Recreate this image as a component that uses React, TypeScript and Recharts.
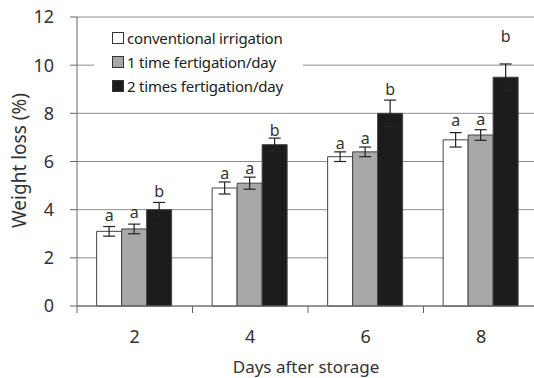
import React from 'react';
import { BarChart, Bar, XAxis, YAxis, CartesianGrid, ErrorBar, LabelList, Legend } from 'recharts';

// values
const days = ['2', '4', '6', '8'];

const conventional = [3.1, 4.9, 6.2, 6.9];
const conventionalErr = [0.2, 0.25, 0.2, 0.3];
const conventionalLetters = ['a', 'a', 'a', 'a'];
const conventionalLetterAt = [3.71, 5.48, 6.69, 7.65];

const oneTime = [3.2, 5.1, 6.4, 7.1];
const oneTimeErr = [0.2, 0.25, 0.2, 0.22];
const oneTimeLetters = ['a', 'a', 'a', 'a'];
const oneTimeLetterAt = [3.86, 5.65, 6.92, 7.72];

const twoTimes = [4.0, 6.7, 8.0, 9.5];
const twoTimesErr = [0.3, 0.27, 0.55, 0.55];
const twoTimesLetters = ['b', 'b', 'b', 'b'];
const twoTimesLetterAt = [4.79, 7.31, 9.0, 11.21];

const yTicks = [0, 2, 4, 6, 8, 10, 12];

const FONT = '"Noto Sans", sans-serif';
const TEXT = '#333';

const series = [
  { key: 'conv', name: 'conventional irrigation', fill: '#ffffff', values: conventional, err: conventionalErr, letters: conventionalLetters, letterAt: conventionalLetterAt },
  { key: 'one', name: '1 time fertigation/day', fill: '#a8a8a8', values: oneTime, err: oneTimeErr, letters: oneTimeLetters, letterAt: oneTimeLetterAt },
  { key: 'two', name: '2 times fertigation/day', fill: '#1c1c1c', values: twoTimes, err: twoTimesErr, letters: twoTimesLetters, letterAt: twoTimesLetterAt },
];

const data = days.map((d, i) => {
  const row: any = { day: d };
  series.forEach((s) => {
    row[s.key] = s.values[i];
    row[s.key + 'Err'] = s.err[i];
    row[s.key + 'Letter'] = s.letters[i];
  });
  return row;
});

// letter sits at a height (in %), converted with the bar's own scale
const makeLetter = (s: any) => (props: any) => {
  const { x, y, width, height, index, value } = props;
  const perUnit = height / s.values[index];
  const cy = y + height - s.letterAt[index] * perUnit;
  const dy = value === 'b' ? 6 : 4.5;
  return (
    <text x={x + width / 2} y={cy + dy} textAnchor="middle" fontSize={16} fontFamily={FONT} fill={TEXT}>
      {value}
    </text>
  );
};

const DayTick = (props: any) => {
  const { x, y, payload } = props;
  const half = payload.offset || 57.75;
  return (
    <g>
      <line x1={x - half} y1={y} x2={x - half} y2={y + 7} stroke="#666" />
      <text x={x} y={y + 37} textAnchor="middle" fontSize={18} fontFamily={FONT} fill={TEXT}>
        {payload.value}
      </text>
    </g>
  );
};

const LegendBox = () => (
  <div style={{ background: '#fff', padding: '2px 0 0 18px', fontFamily: FONT, fontSize: 15, letterSpacing: -0.2, color: '#222' }}>
    {series.map((s) => (
      <div key={s.key} style={{ display: 'flex', alignItems: 'center', height: 24 }}>
        <span style={{ display: 'inline-block', width: 10, height: 10, background: s.fill, border: '1px solid #333', marginRight: 3 }} />
        <span style={{ whiteSpace: 'nowrap' }}>{s.name}</span>
      </div>
    ))}
  </div>
);

export default function App() {
  return (
    <div style={{ position: 'absolute', left: 0, top: 0, width: 534, height: 378, overflow: 'hidden', background: '#fff' }}>
      <BarChart
        width={539}
        height={378}
        data={data}
        margin={{ top: 17, right: 0, bottom: 0, left: 0 }}
        barGap={0}
        barCategoryGap="17%"
      >
        <CartesianGrid vertical={false} stroke="#8c8c8c" />
        <XAxis
          dataKey="day"
          height={72}
          axisLine={{ stroke: '#666' }}
          tickLine={false}
          tickSize={0}
          tickMargin={0}
          tick={<DayTick />}
          interval={0}
          label={{
            content: (p: any) => {
              const vb = p.viewBox;
              return (
                <text x={vb.x + vb.width / 2 - 2} y={373} textAnchor="middle" fontSize={17} fontFamily={FONT} fill={TEXT}>
                  Days after storage
                </text>
              );
            },
          }}
        />
        <YAxis
          width={77}
          domain={[0, 12]}
          ticks={yTicks}
          interval={0}
          axisLine={{ stroke: '#666' }}
          tickLine={{ stroke: '#666' }}
          tickSize={7}
          tickMargin={16}
          tick={{ fontSize: 18, fontFamily: FONT, fill: TEXT }}
          label={{
            content: (p: any) => {
              const vb = p.viewBox;
              const cy = vb.y + vb.height / 2 - 1;
              return (
                <text x={19} y={cy} transform={`rotate(-90, 19, ${cy})`} textAnchor="middle" dominantBaseline="central" fontSize={19} fontFamily={FONT} fill={TEXT}>
                  Weight loss (%)
                </text>
              );
            },
          }}
        />
        <Legend
          layout="vertical"
          align="center"
          verticalAlign="middle"
          content={<LegendBox />}
          wrapperStyle={{ position: 'absolute', left: 94, top: 24, width: 209, height: 76, background: '#fff' }}
        />
        {series.map((s) => (
          <Bar key={s.key} dataKey={s.key} name={s.name} fill={s.fill} stroke="#444" strokeWidth={1} isAnimationActive={false}>
            <ErrorBar dataKey={s.key + 'Err'} width={6} stroke="#222" strokeWidth={1.2} />
            <LabelList dataKey={s.key + 'Letter'} content={makeLetter(s)} />
          </Bar>
        ))}
      </BarChart>
    </div>
  );
}
